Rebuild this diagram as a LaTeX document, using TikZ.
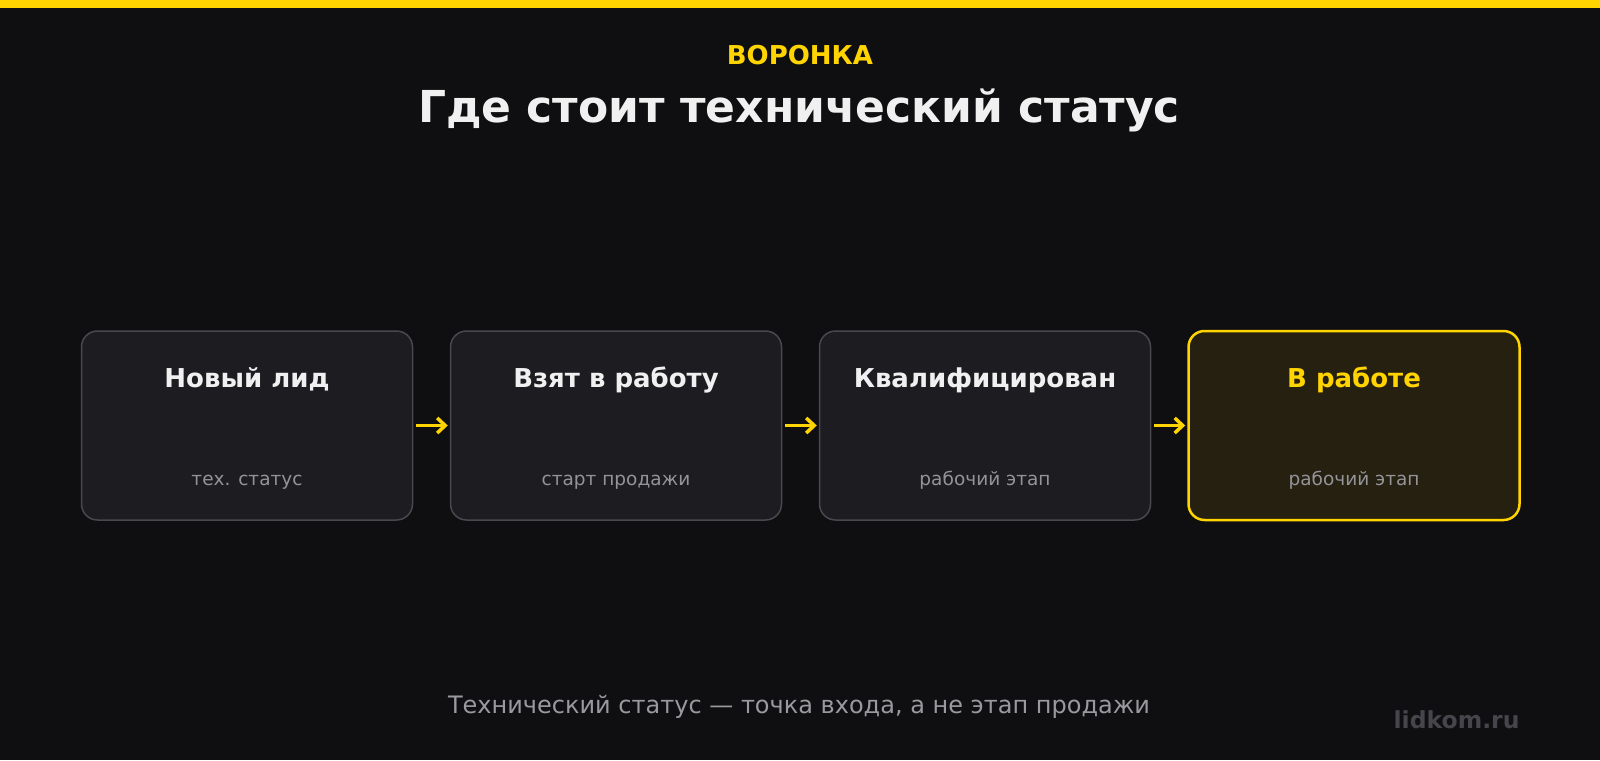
\documentclass[tikz,border=0pt]{standalone}
\usepackage{fontspec}
\setmainfont{DejaVu Sans}
\usetikzlibrary{arrows.meta}
\definecolor{bg}{HTML}{0F0F11}
\definecolor{gold}{HTML}{FFD400}
\definecolor{card}{HTML}{1C1C21}
\definecolor{cardline}{HTML}{48484E}
\definecolor{hotcard}{HTML}{262010}
\definecolor{muted}{HTML}{939398}
\definecolor{caption}{HTML}{9A9A9E}
\definecolor{site}{HTML}{45454B}
\definecolor{ink}{HTML}{F0F0F0}
\tikzset{
  stage/.style={draw=cardline, line width=1.5pt, fill=card, rounded corners=16pt,
    minimum width=331pt, minimum height=189pt},
  hotstage/.style={stage, draw=gold, line width=2.5pt, fill=hotcard},
  stagename/.style={anchor=base, font=\fontsize{26}{30}\selectfont\bfseries, text=ink},
  stagenote/.style={anchor=base, font=\fontsize{18.5}{22}\selectfont, text=muted},
  flow/.style={draw=gold, line width=3.5pt, shorten <=3pt, shorten >=2pt,
    -{Straight Barb[length=8pt,width=15pt]}},
}

\begin{document}
\begin{tikzpicture}[x=1pt, y=-1pt]
		%%%%% START %%%%%
		
		\fill[bg] (0, 0) rectangle (1600, 760);
		\useasboundingbox (0, 0) rectangle (1600, 760);
		\fill[gold] (0, 0) rectangle (1600, 8.5);
		
		\node[anchor=base, font=\fontsize{26}{30}\selectfont\bfseries, text=gold] (kicker) at (800, 65) {ВОРОНКА};
		\node[anchor=base, font=\fontsize{44}{50}\selectfont\bfseries, text=ink] (heading) at (799, 122) {Где стоит технический статус};
		
		\node[stage] (lead) at (247, 425.5) {};
		\node[stage] (taken) at (616, 425.5) {};
		\node[stage] (qualified) at (985, 425.5) {};
		\node[hotstage] (working) at (1354, 425.5) {};
		
		\node[stagename] (leadname) at (247, 387) {Новый лид};
		\node[stagenote] (leadnote) at (247, 485) {тех. статус};
		
		\node[stagename] (takenname) at (616, 387) {Взят в работу};
		\node[stagenote] (takennote) at (616, 485) {старт продажи};
		
		\node[stagename] (qualifiedname) at (985, 387) {Квалифицирован};
		\node[stagenote] (qualifiednote) at (985, 485) {рабочий этап};
		
		\node[stagename, text=gold] (workingname) at (1354, 387) {В работе};
		\node[stagenote] (workingnote) at (1354, 485) {рабочий этап};
		
		\draw[flow] (lead.east) -- (taken.west);
		\draw[flow] (taken.east) -- (qualified.west);
		\draw[flow] (qualified.east) -- (working.west);
		
		\node[anchor=base, font=\fontsize{24}{28}\selectfont, text=caption] (caption) at (799, 713) {Технический статус — точка входа, а не этап продажи};
		\node[anchor=base east, font=\fontsize{23.5}{28}\selectfont\bfseries, text=site] (site) at (1523, 728) {lidkom.ru};
		
		%%%%% END %%%%%
	\end{tikzpicture}
\end{document}
